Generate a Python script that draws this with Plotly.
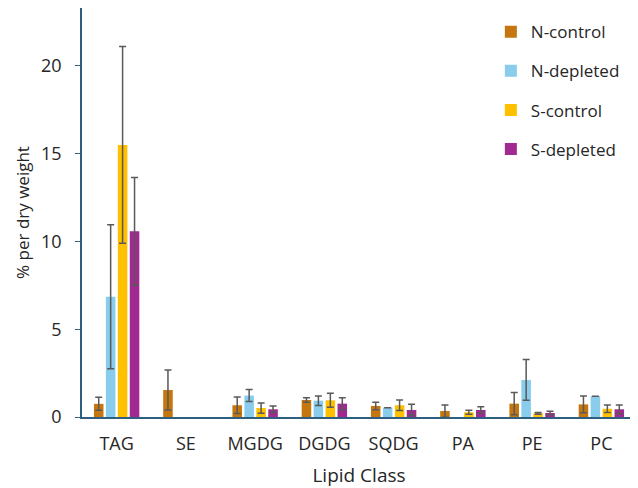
import plotly.graph_objects as go

categories = ["TAG", "SE", "MGDG", "DGDG", "SQDG", "PA", "PE", "PC"]
series_names = ["N-control", "N-depleted", "S-control", "S-depleted"]

n_control = [0.75, 1.54, 0.67, 0.97, 0.63, 0.34, 0.76, 0.72]
n_control_err = [0.37, 1.14, 0.47, 0.13, 0.21, 0.35, 0.63, 0.48]

n_depleted = [6.85, None, 1.22, 0.93, 0.53, None, 2.11, 1.18]
n_depleted_err = [4.1, None, 0.34, 0.27, None, None, 1.16, None]

s_control = [15.5, None, 0.51, 0.95, 0.67, 0.27, 0.21, 0.47]
s_control_err = [5.6, None, 0.29, 0.4, 0.3, 0.11, 0.05, 0.22]

s_depleted = [10.58, None, 0.44, 0.76, 0.4, 0.4, 0.23, 0.44]
s_depleted_err = [3.07, None, 0.19, 0.34, 0.32, 0.19, 0.1, 0.25]

colors = ["#C5760F", "#89CCEB", "#FFC000", "#A12A90"]

values = [n_control, n_depleted, s_control, s_depleted]
errors = [n_control_err, n_depleted_err, s_control_err, s_depleted_err]

fig = go.Figure()
for name, vals, errs, col in zip(series_names, values, errors, colors):
    fig.add_trace(go.Bar(
        x=categories, y=vals, name=name, legendgroup=name,
        marker=dict(color=col, line=dict(width=0)),
        error_y=dict(type="data", array=errs, visible=True,
                     color="#595959", thickness=1.5, width=3.5),
    ))

axis_col = "#2E5E80"
fig.update_layout(
    width=638, height=488,
    margin=dict(l=74, r=10, t=0, b=79),
    plot_bgcolor="white", paper_bgcolor="white",
    barmode="group", bargap=0.31, bargroupgap=0.2,
    font=dict(family="Open Sans, Segoe UI, sans-serif", color="#404040", size=16),
    showlegend=True,
    legend=dict(x=0.738, y=0.985, xanchor="left", yanchor="top",
                font=dict(size=17, color="#262626"), tracegroupgap=14,
                itemwidth=30, bgcolor="rgba(0,0,0,0)"),
    xaxis=dict(showline=True, linecolor=axis_col, linewidth=1.5,
               ticks="", ticklabelstandoff=10, tickfont=dict(size=18, color="#262626"),
               title=dict(text="Lipid Class", font=dict(size=19, color="#262626"), standoff=14)),
    yaxis=dict(range=[0, 23.3], showline=True, linecolor=axis_col, linewidth=1.5,
               ticks="outside", ticklen=5, tickcolor=axis_col, ticklabelstandoff=10,
               tickvals=[0, 5, 10, 15, 20], showgrid=False, zeroline=False,
               tickfont=dict(size=18, color="#262626"),
               title=dict(text="% per dry weight", font=dict(size=17, color="#262626"), standoff=7)),
)

fig.write_html("out.html")
